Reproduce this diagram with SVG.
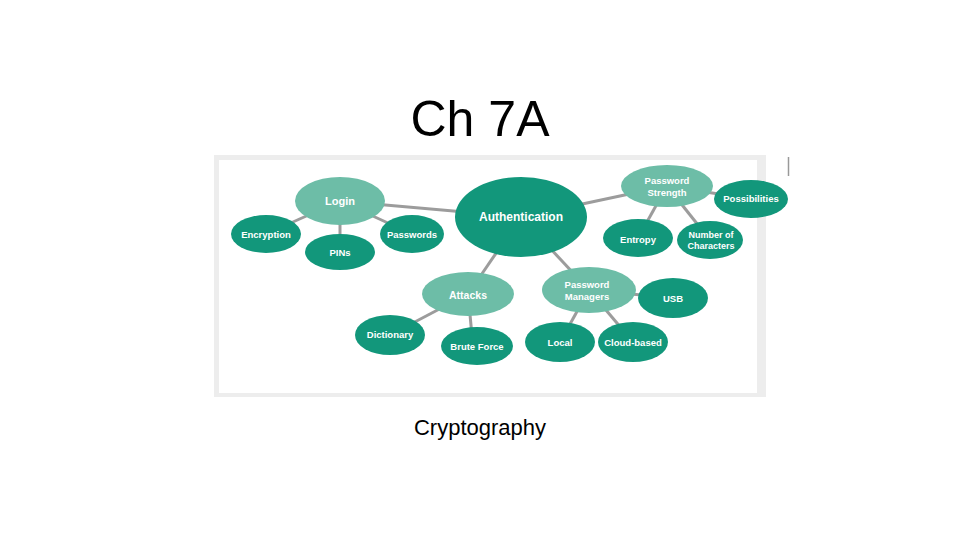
<svg xmlns="http://www.w3.org/2000/svg" width="960" height="540" viewBox="0 0 960 540">
<style>
.t{font-family:"Liberation Sans",Arial,sans-serif;fill:#fff;font-weight:bold;font-size:9.5px;text-anchor:middle}
.d{fill:#12977b}
.l{fill:#6dbda7}
.c line{stroke:#9c9c9c;stroke-width:3}
.h{font-family:"Liberation Sans",Arial,sans-serif;fill:#000;text-anchor:middle}
</style>
<rect width="960" height="540" fill="#fff"/>
<text class="h" x="480" y="136" style="font-size:50px">Ch 7A</text>
<rect x="214" y="155" width="552" height="242" fill="#ededed"/>
<rect x="219" y="160" width="538" height="233" fill="#fff"/>
<line x1="788.5" y1="157" x2="788.5" y2="176" stroke="#999" stroke-width="1.5"/>
<g id="connectors" class="c">
<line x1="340" y1="201" x2="521" y2="217"/>
<line x1="340" y1="201" x2="266" y2="234"/>
<line x1="340" y1="201" x2="340" y2="252"/>
<line x1="340" y1="201" x2="412" y2="234"/>
<line x1="521" y1="217" x2="667" y2="186"/>
<line x1="667" y1="186" x2="751" y2="199"/>
<line x1="667" y1="186" x2="638" y2="238"/>
<line x1="667" y1="186" x2="710" y2="240"/>
<line x1="521" y1="217" x2="468" y2="294"/>
<line x1="521" y1="217" x2="589" y2="290"/>
<line x1="468" y1="294" x2="390" y2="335"/>
<line x1="468" y1="294" x2="473" y2="346"/>
<line x1="589" y1="290" x2="673" y2="298"/>
<line x1="589" y1="290" x2="560" y2="342"/>
<line x1="589" y1="290" x2="633" y2="342"/>
</g>
<g id="login"><ellipse class="l" cx="340" cy="201" rx="45" ry="24"/><text class="t" x="340" y="205" style="font-size:11px">Login</text></g>
<g id="encryption"><ellipse class="d" cx="266" cy="234" rx="35" ry="19"/><text class="t" x="266" y="237.5">Encryption</text></g>
<g id="pins"><ellipse class="d" cx="340" cy="252" rx="35" ry="18"/><text class="t" x="340" y="256">PINs</text></g>
<g id="passwords"><ellipse class="d" cx="412" cy="234" rx="32" ry="19"/><text class="t" x="412" y="237.5">Passwords</text></g>
<g id="authentication"><ellipse class="d" cx="521" cy="217" rx="66" ry="40"/><text class="t" x="521" y="221" style="font-size:12px">Authentication</text></g>
<g id="password-strength"><ellipse class="l" cx="667" cy="186" rx="46" ry="21"/><text class="t" x="667" y="184">Password</text><text class="t" x="667" y="196">Strength</text></g>
<g id="possibilities"><ellipse class="d" cx="751" cy="199" rx="37" ry="19"/><text class="t" x="751" y="202">Possibilities</text></g>
<g id="entropy"><ellipse class="d" cx="638" cy="238" rx="35" ry="19"/><text class="t" x="638" y="243">Entropy</text></g>
<g id="number-of-characters"><ellipse class="d" cx="710" cy="240" rx="33" ry="19"/><text class="t" x="711" y="238" style="font-size:9px">Number of</text><text class="t" x="711" y="249" style="font-size:9px">Characters</text></g>
<g id="attacks"><ellipse class="l" cx="468" cy="294" rx="46" ry="22"/><text class="t" x="468" y="299" style="font-size:10.5px">Attacks</text></g>
<g id="dictionary"><ellipse class="d" cx="390" cy="335" rx="35" ry="20"/><text class="t" x="390" y="338">Dictionary</text></g>
<g id="brute-force"><ellipse class="d" cx="477" cy="346" rx="36" ry="19"/><text class="t" x="477" y="349.5">Brute Force</text></g>
<g id="password-managers"><ellipse class="l" cx="589" cy="290" rx="47" ry="23"/><text class="t" x="587" y="288">Password</text><text class="t" x="587" y="300">Managers</text></g>
<g id="usb"><ellipse class="d" cx="673" cy="298" rx="35" ry="20"/><text class="t" x="673" y="302">USB</text></g>
<g id="local"><ellipse class="d" cx="560" cy="342" rx="35" ry="20"/><text class="t" x="560" y="346">Local</text></g>
<g id="cloud-based"><ellipse class="d" cx="633" cy="342" rx="35" ry="20"/><text class="t" x="633" y="346">Cloud-based</text></g>
<text class="h" x="480" y="435" style="font-size:22px">Cryptography</text>
</svg>
